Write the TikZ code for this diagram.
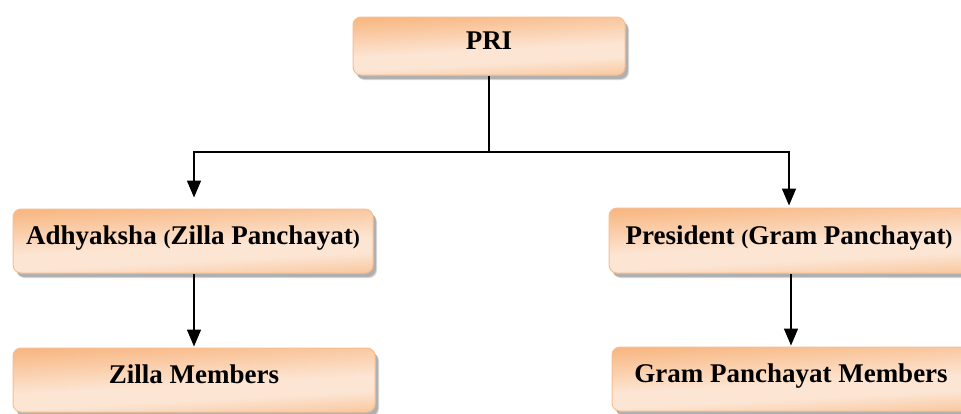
\documentclass[tikz,border=0pt]{standalone}
\usepackage{fontspec}
\setmainfont{Liberation Serif}
\usetikzlibrary{arrows.meta,shadows}
\definecolor{boxdark}{HTML}{F8B782}
\definecolor{boxmid}{HTML}{FCE5D3}
\definecolor{boxlow}{HTML}{F9CAA3}
\definecolor{boxline}{HTML}{F6BF93}
% vertical fill: orange at the foot, pale band below the middle, deeper orange at the top
\pgfdeclareverticalshading{boxshade}{100bp}{color(0bp)=(boxlow); color(25bp)=(boxlow);
  color(37bp)=(boxmid); color(47bp)=(boxmid); color(75bp)=(boxdark); color(100bp)=(boxdark)}
\newcommand{\pr}[1]{{\fontsize{21}{24}\selectfont #1}}
\tikzset{
  orgbox/.style={rectangle, rounded corners=8pt, draw=boxline, line width=1pt,
    shading=boxshade, shading angle=3,
    drop shadow={shadow xshift=4pt, shadow yshift=-5pt, fill=black!60, opacity=.25},
    drop shadow={shadow xshift=3pt, shadow yshift=-4pt, fill=black!60, opacity=.35},
    font=\fontsize{27}{30}\selectfont\bfseries, text height=18pt, text depth=11pt,
    inner sep=0pt},
  link/.style={line width=1.6pt, black},
  arr/.style={link, -{Triangle[width=14pt,length=17pt]}}
}
\begin{document}
\begin{tikzpicture}[x=1pt,y=-1pt]
  \useasboundingbox (0,0) rectangle (961,413);
  \clip (0,0) rectangle (961,413);
  \node[orgbox, minimum width=272pt, minimum height=58pt] (pri) at (489,46) {PRI};
  \node[orgbox, minimum width=360pt, minimum height=64pt] (adh) at (193,241)
    {Adhyaksha \pr{(}Zilla Panchayat\pr{)}};
  \node[orgbox, minimum width=360pt, minimum height=65pt] (pres) at (789,240.5)
    {President \pr{(}Gram Panchayat\pr{)}};
  \node[orgbox, minimum width=362pt, minimum height=64pt] (zm) at (194,380) {Zilla Members};
  \node[orgbox, minimum width=358pt, minimum height=64pt] (gpm) at (791,379) {Gram Panchayat Members};
  \coordinate (bus) at (489,152);
  \draw[arr, shorten >=11pt] (pri.south) -- (pri.south |- bus) -| ([xshift=1pt]adh.north);
  \draw[arr, shorten >=2pt] (pri.south |- bus) -| (pres.north);
  \draw[arr, shorten >=1pt] ([xshift=1pt]adh.south) -- ([xshift=1pt]adh.south |- zm.north);
  \draw[arr, shorten >=1pt] ([xshift=2pt]pres.south) -- ([xshift=2pt]pres.south |- gpm.north);
\end{tikzpicture}
\end{document}
